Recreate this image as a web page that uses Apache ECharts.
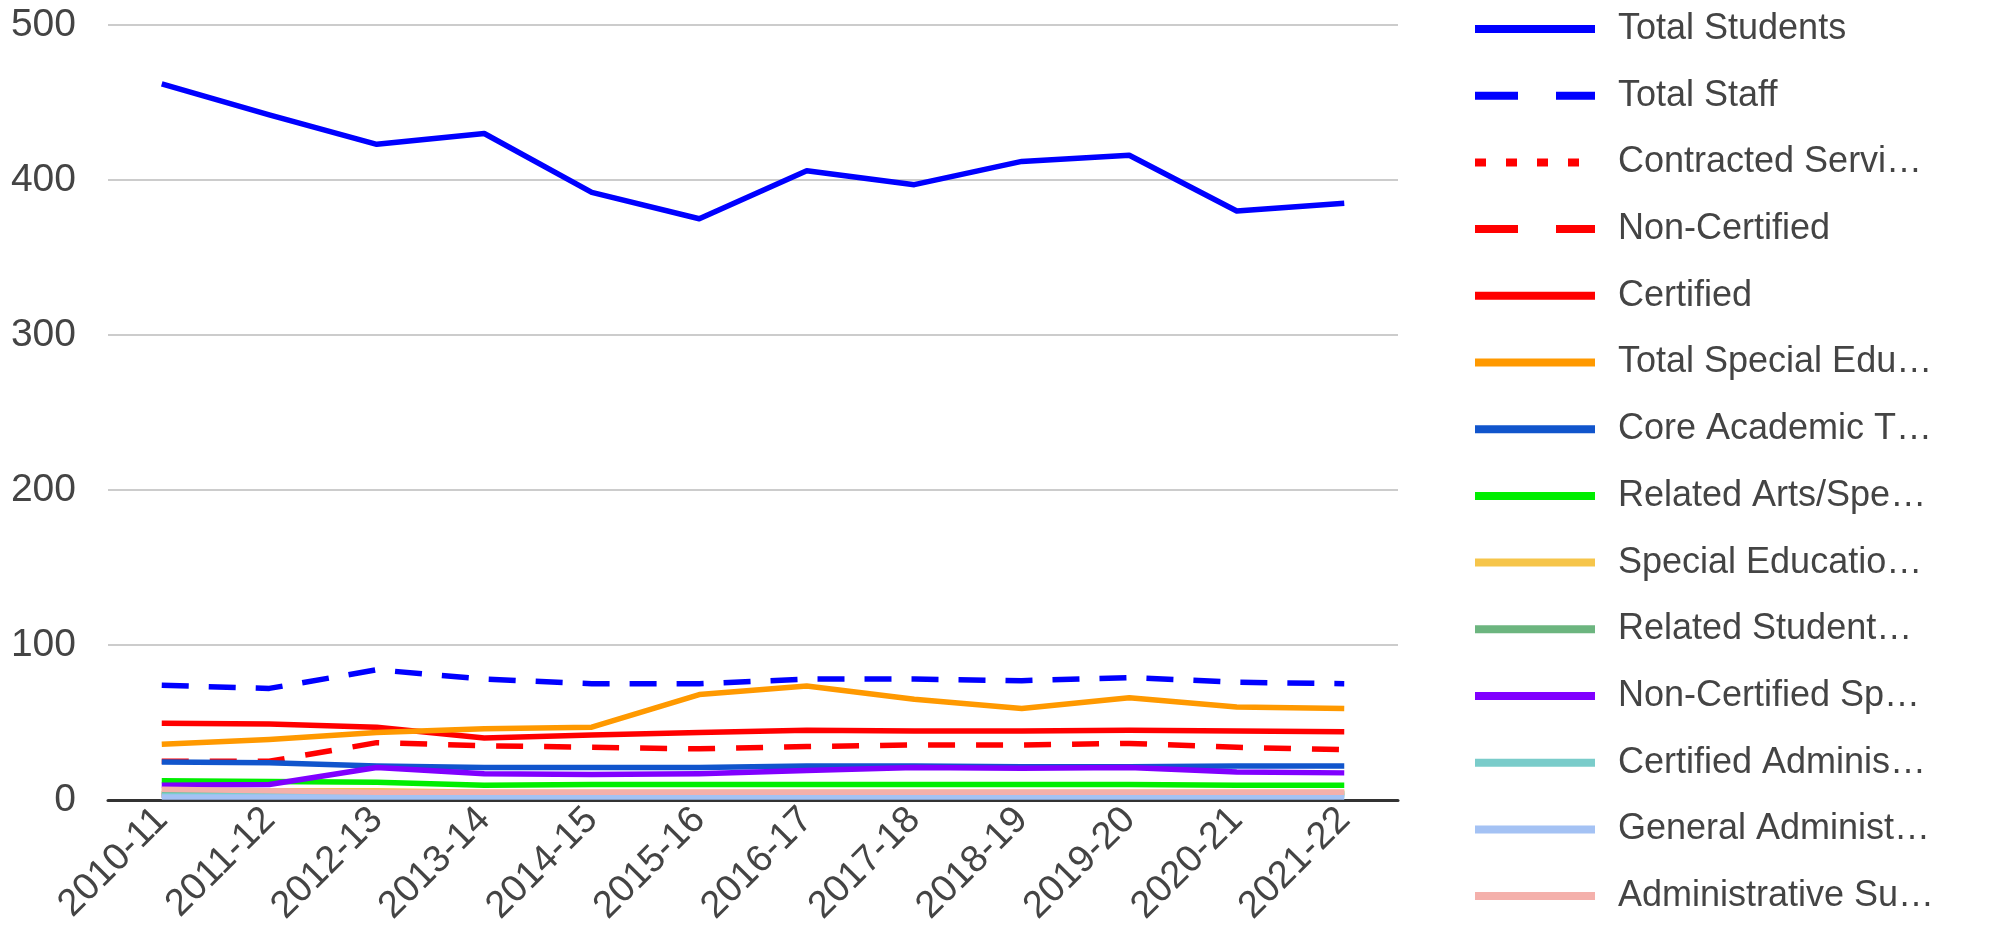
<!DOCTYPE html>
<html>
<head>
<meta charset="utf-8">
<script src="https://cdn.jsdelivr.net/npm/echarts@6/dist/echarts.min.js"></script>
<style>
html,body{margin:0;padding:0;background:#fff;}
#chart{width:1992px;height:937px;}
</style>
</head>
<body>
<div id="chart"></div>
<script>
const categories = ['2010-11','2011-12','2012-13','2013-14','2014-15','2015-16','2016-17','2017-18','2018-19','2019-20','2020-21','2021-22'];
const yTicks = [0, 100, 200, 300, 400, 500];

const totalStudents      = [462, 442, 423, 430, 392, 375, 406, 397, 412, 416, 380, 385];
const totalStaff         = [74, 72, 84, 78, 75, 75, 78, 78, 77, 79, 76, 75];
const contractedServices = [3, 3, 3, 3, 3, 3, 3, 3, 3, 3, 3, 3];
const nonCertified       = [25, 25, 37, 35, 34, 33, 34.5, 35.5, 35.5, 36.5, 34, 32.5];
const certified          = [49.5, 49, 47, 40, 42, 43.5, 45, 44.5, 44.5, 45, 44.5, 44];
const totalSpecialEd     = [36, 39, 43.5, 46, 47, 68, 73.5, 65, 59, 66, 60, 59];
const coreAcademic       = [24.5, 24, 22, 21, 21, 21, 22, 22, 21.5, 21.5, 22, 22];
const relatedArts        = [12.5, 12, 11.5, 9.5, 10, 10, 10, 10, 10, 10, 9.5, 9.5];
const specialEducation   = [6, 6, 6, 5, 5, 5, 5, 5, 5, 5, 5, 5];
const relatedStudent     = [4, 4, 4, 4, 4, 4, 4, 4, 4, 4, 4, 4];
const nonCertifiedSp     = [9.5, 10, 21, 17, 16.5, 17, 19, 21, 20.5, 21, 18, 17.5];
const certifiedAdmin     = [3, 3, 3, 3, 3, 3, 3, 3, 3, 3, 3, 3];
const generalAdmin       = [2, 2, 2, 2, 2, 2, 2, 2, 2, 2, 2, 2];
const adminSupport       = [7, 6, 5, 5, 5, 5, 5, 5, 5, 5, 5, 5];

const seriesDefs = [
  {name:'Total Students', data: totalStudents, color:'#0000ff', type:'solid', ltype:'solid'},
  {name:'Total Staff', data: totalStaff, color:'#0000ff', type:[27,20], ltype:[43,38]},
  {name:'Contracted Servi…', data: contractedServices, color:'#ff0000', type:[6,10], ltype:[11,20]},
  {name:'Non-Certified', data: nonCertified, color:'#ff0000', type:[27,21], ltype:[43,38]},
  {name:'Certified', data: certified, color:'#ff0000', type:'solid', ltype:'solid'},
  {name:'Total Special Edu…', data: totalSpecialEd, color:'#ff9900', type:'solid', ltype:'solid'},
  {name:'Core Academic T…', data: coreAcademic, color:'#1155cc', type:'solid', ltype:'solid'},
  {name:'Related Arts/Spe…', data: relatedArts, color:'#00ee00', type:'solid', ltype:'solid'},
  {name:'Special Educatio…', data: specialEducation, color:'#f6c54a', type:'solid', ltype:'solid'},
  {name:'Related Student…', data: relatedStudent, color:'#6cb57f', type:'solid', ltype:'solid'},
  {name:'Non-Certified Sp…', data: nonCertifiedSp, color:'#8000ff', type:'solid', ltype:'solid'},
  {name:'Certified Adminis…', data: certifiedAdmin, color:'#7accca', type:'solid', ltype:'solid'},
  {name:'General Administ…', data: generalAdmin, color:'#a4c2f4', type:'solid', ltype:'solid'},
  {name:'Administrative Su…', data: adminSupport, color:'#f4b0ab', type:'solid', ltype:'solid'}
];

const chart = echarts.init(document.getElementById('chart'), null, {renderer:'canvas'});
const option = {
  animation: false,
  backgroundColor: '#ffffff',
  textStyle: {fontFamily: 'Liberation Sans, Arial, sans-serif'},
  grid: {left: 108, top: 25, width: 1290, height: 775, containLabel: false},
  xAxis: {
    type: 'category',
    data: categories,
    boundaryGap: true,
    axisLine: {show: true, lineStyle: {color: '#333333', width: 3}},
    axisTick: {show: false},
    axisLabel: {rotate: 45, fontSize: 38, color: '#444444', margin: 14, interval: 0,
                fontFamily: 'Liberation Sans, Arial, sans-serif'},
    splitLine: {show: false}
  },
  yAxis: {
    type: 'value',
    min: yTicks[0],
    max: yTicks[yTicks.length - 1],
    interval: 100,
    axisLine: {show: false},
    axisTick: {show: false},
    axisLabel: {fontSize: 39, color: '#444444', margin: 32,
                fontFamily: 'Liberation Sans, Arial, sans-serif'},
    splitLine: {lineStyle: {color: '#cccccc', width: 2}}
  },
  legend: {
    orient: 'vertical',
    left: 1466,
    top: 6,
    itemWidth: 120,
    itemHeight: 36,
    itemGap: 30.7,
    textStyle: {fontSize: 36, color: '#444444', padding: [0, 0, 0, 18],
                fontFamily: 'Liberation Sans, Arial, sans-serif'},
    data: seriesDefs.map(s => ({
      name: s.name,
      itemStyle: {opacity: 0},
      lineStyle: {width: 8, type: s.ltype, color: s.color, cap: 'butt'}
    }))
  },
  series: seriesDefs.map(s => ({
    name: s.name,
    type: 'line',
    data: s.data,
    symbol: 'none',
    showSymbol: false,
    smooth: false,
    color: s.color,
    lineStyle: {width: 5.5, color: s.color, type: s.type, cap: 'butt', join: 'round'}
  }))
};
chart.setOption(option);
</script>
</body>
</html>
